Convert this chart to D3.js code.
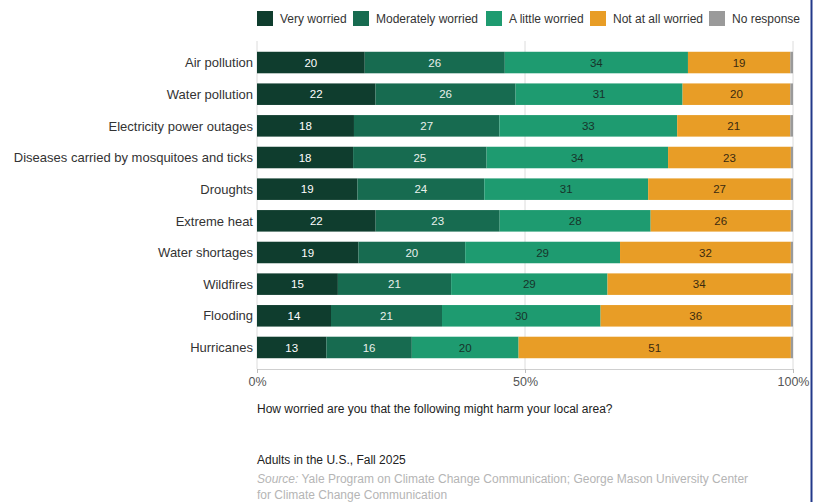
<!DOCTYPE html>
<html>
<head>
<meta charset="utf-8">
<script src="https://cdn.jsdelivr.net/npm/d3@7"></script>
<style>
  html, body { margin: 0; padding: 0; background: #fff; }
  svg { display: block; font-family: "Liberation Sans", Arial, sans-serif; }
</style>
</head>
<body>
<div id="chart"></div>
<script>
// Harms to the local area — 100% stacked bars

const categories = [
  'Air pollution', 'Water pollution', 'Electricity power outages',
  'Diseases carried by mosquitoes and ticks', 'Droughts', 'Extreme heat',
  'Water shortages', 'Wildfires', 'Flooding', 'Hurricanes'
];
const seriesNames = ['Very worried', 'Moderately worried', 'A little worried', 'Not at all worried', 'No response'];

const veryWorried   = [20, 22, 18, 18, 19, 22, 19, 15, 14, 13];
const moderately    = [26, 26, 27, 25, 24, 23, 20, 21, 21, 16];
const aLittle       = [34, 31, 33, 34, 31, 28, 29, 29, 30, 20];
const notAtAll      = [19, 20, 21, 23, 27, 26, 32, 34, 36, 51];
const noResponse    = [0.5, 0.5, 0.5, 0.4, 0.4, 0.4, 0.4, 0.4, 0.4, 0.4];

const xTicks = [0, 0.5, 1];

const COLORS = ['#0f3d2e', '#176b50', '#1e9b70', '#e89d26', '#9a9a9a'];
const LABEL_INK = ['#ffffff', '#e8f0ec', '#17332a', '#3a2a10', '#333'];

const W = 813, H = 502;
const x0 = 257, x1 = 793;

const rows = categories.map((c, i) => ({
  cat: c,
  'Very worried': veryWorried[i],
  'Moderately worried': moderately[i],
  'A little worried': aLittle[i],
  'Not at all worried': notAtAll[i],
  'No response': noResponse[i],
}));
const raw = { 'Very worried': veryWorried, 'Moderately worried': moderately,
  'A little worried': aLittle, 'Not at all worried': notAtAll, 'No response': noResponse };

const stacked = d3.stack().keys(seriesNames).offset(d3.stackOffsetExpand)(rows);

const x = d3.scaleLinear().domain([0, 1]).range([x0, x1]);
const y = d3.scaleBand().domain(categories).range([41, 369])
  .paddingInner(0.32).paddingOuter(0.34);

const svg = d3.select('#chart').append('svg')
  .attr('width', W).attr('height', H).attr('viewBox', `0 0 ${W} ${H}`);

svg.append('rect').attr('width', W).attr('height', H).attr('fill', '#fff');

// gridlines
svg.append('g').selectAll('line').data(xTicks).enter().append('line')
  .attr('x1', d => x(d)).attr('x2', d => x(d))
  .attr('y1', 41).attr('y2', 369)
  .attr('stroke', '#dcdcdc').attr('stroke-width', 1);

// bottom axis
const axis = svg.append('g').attr('transform', 'translate(0,369)')
  .call(d3.axisBottom(x).tickValues(xTicks).tickFormat(d3.format('.0%')).tickSize(4).tickPadding(4));
axis.select('.domain').attr('stroke', '#cfcfcf');
axis.selectAll('.tick line').attr('stroke', '#bdbdbd');
axis.selectAll('.tick text').attr('fill', '#555').style('font-size', '12.5px')
  .style('font-family', '"Liberation Sans", Arial, sans-serif');

// bars
const layers = svg.append('g').selectAll('g').data(stacked).enter().append('g')
  .attr('fill', (d, i) => COLORS[i]);
layers.selectAll('rect').data(d => d).enter().append('rect')
  .attr('x', d => x(d[0]))
  .attr('y', d => y(d.data.cat))
  .attr('width', d => x(d[1]) - x(d[0]))
  .attr('height', y.bandwidth());

// value labels
stacked.forEach((layer, li) => {
  if (li === 4) return;
  svg.append('g').selectAll('text').data(layer).enter().append('text')
    .attr('x', d => (x(d[0]) + x(d[1])) / 2)
    .attr('y', d => y(d.data.cat) + y.bandwidth() / 2)
    .attr('dy', '0.36em')
    .attr('text-anchor', 'middle')
    .attr('fill', LABEL_INK[li])
    .style('font-size', '11.5px')
    .text((d, i) => raw[layer.key][i]);
});

// category labels
svg.append('g').selectAll('text').data(categories).enter().append('text')
  .attr('x', 253)
  .attr('y', d => y(d) + y.bandwidth() / 2)
  .attr('dy', '0.36em')
  .attr('text-anchor', 'end')
  .attr('fill', '#333')
  .style('font-size', '13px')
  .text(d => d);

// legend
const legendX = [257, 353, 486, 590, 709];
const legend = svg.append('g').selectAll('g').data(seriesNames).enter().append('g')
  .attr('transform', (d, i) => `translate(${legendX[i]},11)`);
legend.append('rect').attr('width', 16).attr('height', 15)
  .attr('fill', (d, i) => COLORS[i]);
legend.append('text').attr('x', 23).attr('y', 7.5).attr('dy', '0.36em')
  .attr('fill', '#333').style('font-size', '12px').text(d => d);

// notes
svg.append('text').attr('x', 257).attr('y', 413).attr('fill', '#222')
  .style('font-size', '12px')
  .text('How worried are you that the following might harm your local area?');
svg.append('text').attr('x', 257).attr('y', 464).attr('fill', '#222')
  .style('font-size', '12px')
  .text('Adults in the U.S., Fall 2025');
const src = svg.append('text').attr('x', 257).attr('y', 483).attr('fill', '#b5b5b5')
  .style('font-size', '12px');
src.append('tspan').style('font-style', 'italic').text('Source:');
src.append('tspan').text(' Yale Program on Climate Change Communication; George Mason University Center');
svg.append('text').attr('x', 257).attr('y', 499).attr('fill', '#b5b5b5')
  .style('font-size', '12px')
  .text('for Climate Change Communication');

// frame edge on the right
svg.append('line').attr('x1', 811.5).attr('x2', 811.5).attr('y1', 0).attr('y2', H)
  .attr('stroke', '#22398a').attr('stroke-width', 2);
</script>
</body>
</html>
